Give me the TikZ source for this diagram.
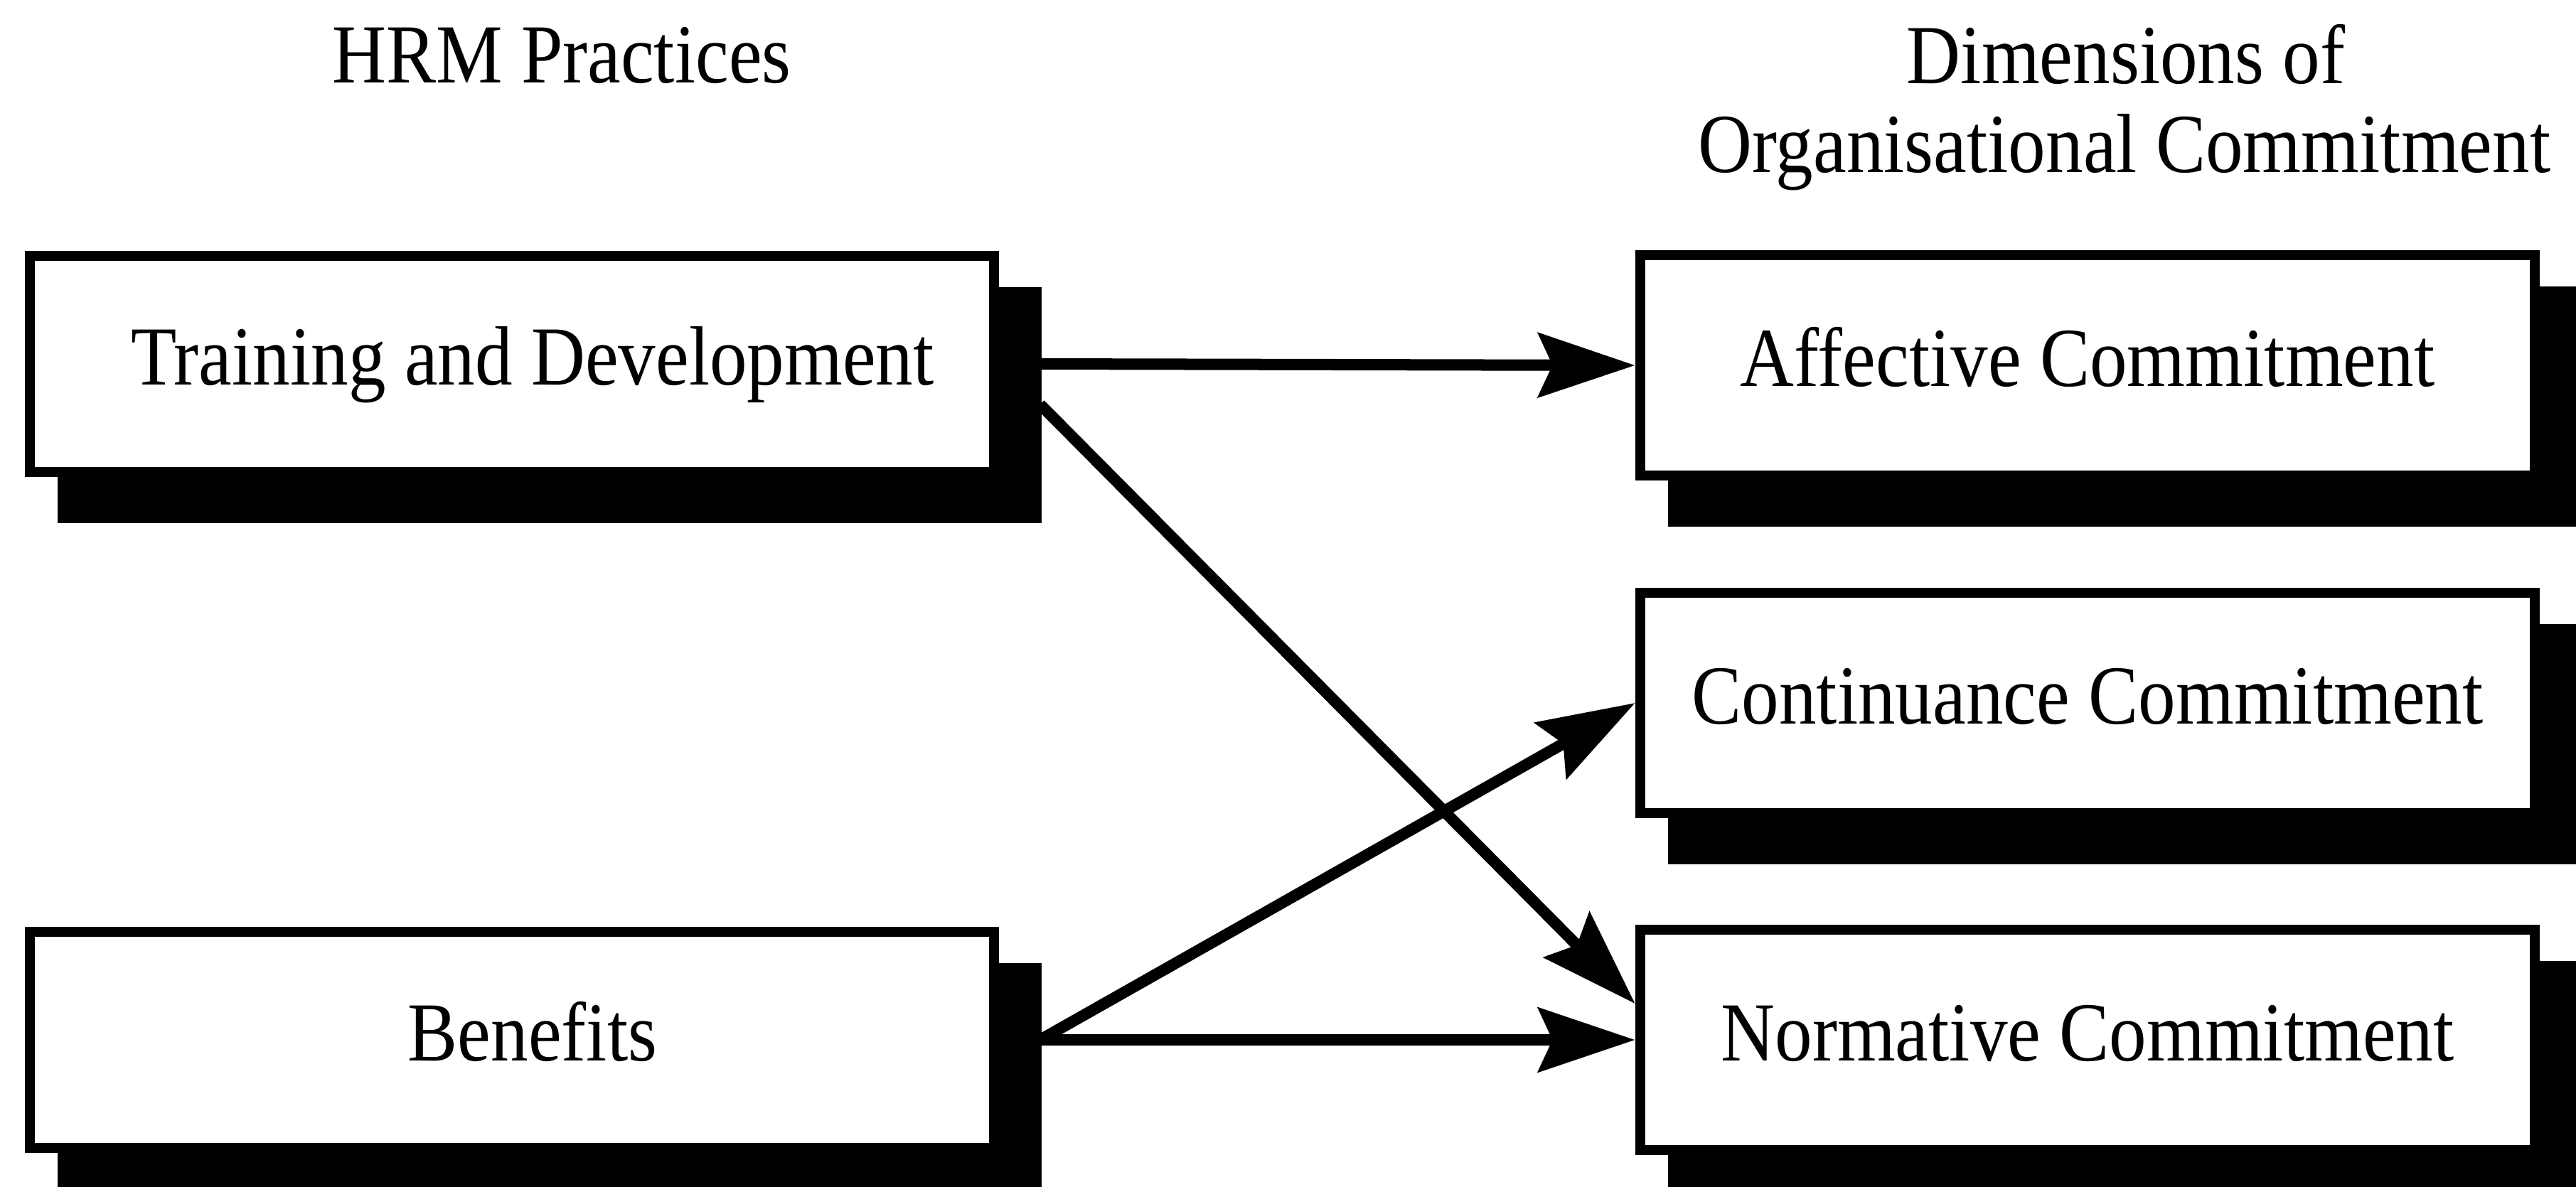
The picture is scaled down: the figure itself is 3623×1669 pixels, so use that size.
\documentclass[tikz,border=0pt]{standalone}
\usepackage{fontspec}
\setmainfont[FakeStretch=0.89]{Liberation Serif}
\usetikzlibrary{arrows.meta,backgrounds}
\newcommand\diagfont{\fontsize{33.6pt}{35.6pt}\selectfont}
\begin{document}
\begin{tikzpicture}[x=0.01cm,y=-0.01cm,
  box/.style={draw=black, fill=white, line width=0.14cm, inner sep=0pt,
    text height=0.885cm, text depth=0.295cm, font=\diagfont},
  leftbox/.style={box, minimum width=13.55cm, minimum height=3.04cm},
  rightbox/.style={box, minimum width=12.58cm, minimum height=3.1cm},
  heading/.style={inner sep=0pt, anchor=base, font=\diagfont},
  link/.style={line width=0.16cm, -{Stealth[length=1.36cm,width=0.9cm,inset=0.2cm]}},
  shadowfill/.style={fill=black}]
\useasboundingbox (0,0) rectangle (3623,1669);

% column headings
\node[heading] (hrm)  at (790,116)  {HRM Practices};
\node[heading] (dim1) at (2990,117) {Dimensions of};
\node[heading] (dim2) at (2988,242) {Organisational Commitment};

% practices
\node[leftbox] (td) at (720,512)  {\hspace*{0.58cm}Training and Development};
\node[leftbox] (bn) at (720,1463) {\hspace*{0.58cm}Benefits};

% commitment dimensions
\node[rightbox] (af) at (2936,514)  {Affective Commitment};
\node[rightbox] (cc) at (2936,989)  {Continuance Commitment};
\node[rightbox] (nm) at (2936,1463) {Normative Commitment};

% drop shadows behind the boxes
\begin{scope}[on background layer]
  \clip (0,0) rectangle (3623,1669);
  \fill[white] (0,0) rectangle (3623,1669);
  \foreach \b in {td,bn,af,cc,nm}
    \fill[shadowfill] ([shift={(46,51)}]\b.north west) rectangle ([shift={(60,65)}]\b.south east);
\end{scope}

% arrow start points on the shadow edge
\coordinate (tdout)  at ([shift={(58,0)}]td.east);
\coordinate (tdout2) at ([shift={(58,57)}]td.east);
\coordinate (bnout)  at ([shift={(58,0)}]bn.east);
\coordinate (nmin)   at ([shift={(0,-51)}]nm.west);

\draw[link] (tdout) -- (af.west);
\draw[link] (tdout2) -- (nmin);
\draw[link] (bnout) -- (cc.west);
\draw[link] (bnout) -- (nm.west);
\end{tikzpicture}
\end{document}
